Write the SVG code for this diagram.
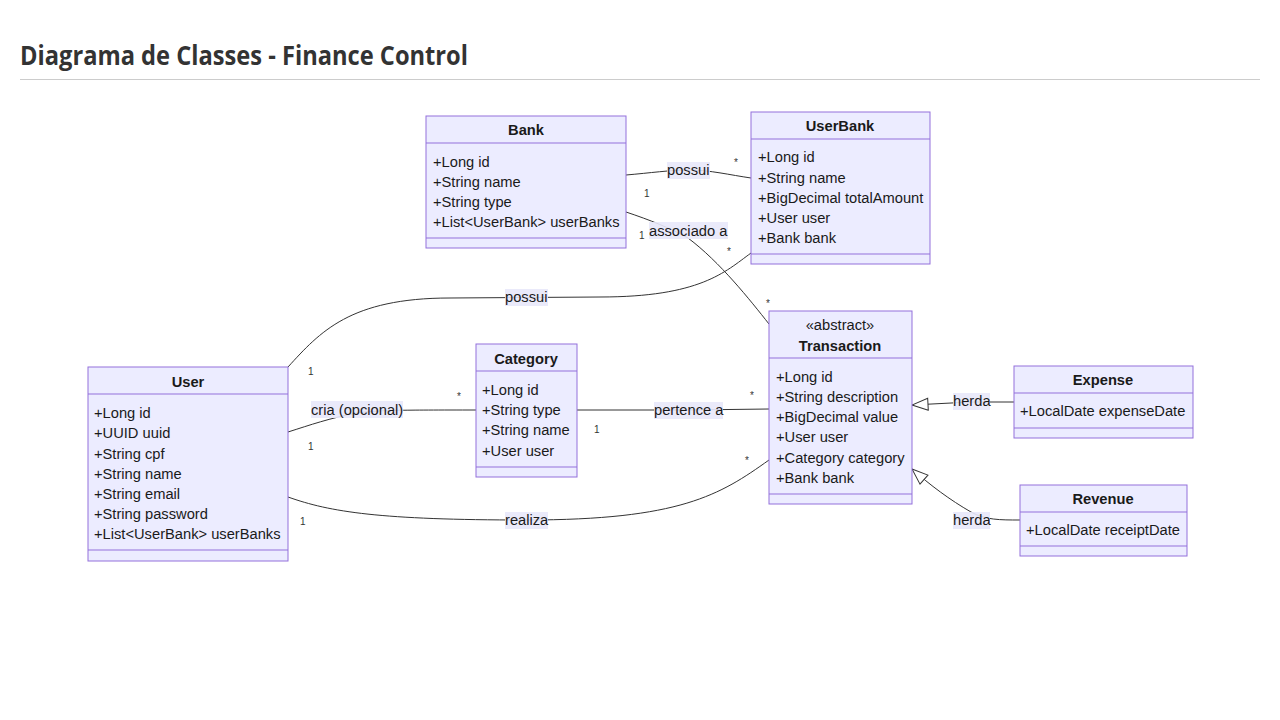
<svg xmlns="http://www.w3.org/2000/svg" width="1280" height="720" viewBox="0 0 1280 720" font-family="Liberation Sans, Arial, sans-serif">
<style>
.box{fill:#ECECFF;stroke:#9370DB;stroke-width:1}
.div{stroke:#9370DB;stroke-width:1}
text{font-family:'Liberation Sans',Arimo,Arial,sans-serif}
.t{font-size:14.7px;fill:#1a1a1a}
.h{font-size:14.7px;font-weight:bold;fill:#1a1a1a;text-anchor:middle}
.e{fill:none;stroke:#333;stroke-width:1}
.lb{fill:#E8E8FA;opacity:0.9}
.m{font-size:10px;fill:#333}
.title{font-family:'Open Sans','Noto Sans',sans-serif;font-size:26px;font-weight:700;fill:#333}
</style>
<defs>
<marker id="tri" markerWidth="18" markerHeight="14" refX="17" refY="7" orient="auto" markerUnits="userSpaceOnUse" viewBox="0 0 18 14">
<path d="M1,1 L17,7 L1,13 Z" fill="#fff" stroke="#333" stroke-width="1"/>
</marker>
</defs>
<rect width="1280" height="720" fill="#fff"/>
<text class="title" x="20" y="65" textLength="448" lengthAdjust="spacingAndGlyphs">Diagrama de Classes - Finance Control</text>
<line x1="20" y1="79.500" x2="1260" y2="79.500" stroke="#ccc" stroke-width="1"/>

<g id="connectors">
<path class="e" d="M626,175 C650,173 670,170 689,170 C710,170 730,175 751,178"/>
<path class="e" d="M626,212 C650,220 670,228 688,238 C720,262 750,300 769,324"/>
<path class="e" d="M288,367 C320,332 350,298 450,298 L600,297 C700,297 725,272 751,253"/>
<path class="e" d="M288,432 C310,425 330,418 357,413 C380,410 400,410 476,410"/>
<path class="e" d="M577,410 L688,410 L769,409"/>
<path class="e" d="M288,497 C330,512 380,520 526,520 C680,520 720,495 769,460"/>
<path class="e" d="M1014,402 L971,402 L912,405" marker-end="url(#tri)"/>
<path class="e" d="M1020,520 C1000,520 985,520 971,512 C950,500 930,485 912,469" marker-end="url(#tri)"/>
<rect class="lb" x="667" y="162" width="43" height="17"/>
<text class="t" x="667" y="175">possui</text>
<rect class="lb" x="649" y="222" width="79" height="17"/>
<text class="t" x="649" y="236">associado a</text>
<rect class="lb" x="505" y="289" width="43" height="17"/>
<text class="t" x="505" y="302">possui</text>
<rect class="lb" x="311" y="401" width="92" height="17"/>
<text class="t" x="311" y="415">cria (opcional)</text>
<rect class="lb" x="654" y="402" width="69" height="17"/>
<text class="t" x="654" y="415">pertence a</text>
<rect class="lb" x="505" y="512" width="43" height="17"/>
<text class="t" x="505" y="525">realiza</text>
<rect class="lb" x="953" y="393" width="37" height="17"/>
<text class="t" x="953" y="406">herda</text>
<rect class="lb" x="953" y="512" width="37" height="17"/>
<text class="t" x="953" y="525">herda</text>
<text class="m" x="644" y="197">1</text>
<text class="m" x="734" y="166">*</text>
<text class="m" x="639" y="239">1</text>
<text class="m" x="727" y="255">*</text>
<text class="m" x="766" y="307">*</text>
<text class="m" x="308" y="375">1</text>
<text class="m" x="308" y="450">1</text>
<text class="m" x="457" y="400">*</text>
<text class="m" x="594" y="433">1</text>
<text class="m" x="750" y="399">*</text>
<text class="m" x="300" y="525">1</text>
<text class="m" x="745" y="464">*</text>
</g>

<g id="Bank">
<rect class="box" x="426" y="116" width="200" height="132"/>
<line class="div" x1="426" y1="143" x2="626" y2="143"/>
<line class="div" x1="426" y1="238" x2="626" y2="238"/>
<text class="h" x="526" y="135">Bank</text>
<text class="t" x="433" y="167">+Long id</text>
<text class="t" x="433" y="187">+String name</text>
<text class="t" x="433" y="207">+String type</text>
<text class="t" x="433" y="227">+List&lt;UserBank&gt; userBanks</text>
</g>

<g id="UserBank">
<rect class="box" x="751" y="112" width="179" height="152"/>
<line class="div" x1="751" y1="139" x2="930" y2="139"/>
<line class="div" x1="751" y1="254" x2="930" y2="254"/>
<text class="h" x="840" y="131">UserBank</text>
<text class="t" x="758" y="162">+Long id</text>
<text class="t" x="758" y="183">+String name</text>
<text class="t" x="758" y="203">+BigDecimal totalAmount</text>
<text class="t" x="758" y="223">+User user</text>
<text class="t" x="758" y="243">+Bank bank</text>
</g>

<g id="User">
<rect class="box" x="88" y="367" width="200" height="194"/>
<line class="div" x1="88" y1="394" x2="288" y2="394"/>
<line class="div" x1="88" y1="550" x2="288" y2="550"/>
<text class="h" x="188" y="387">User</text>
<text class="t" x="94" y="418">+Long id</text>
<text class="t" x="94" y="438">+UUID uuid</text>
<text class="t" x="94" y="459">+String cpf</text>
<text class="t" x="94" y="479">+String name</text>
<text class="t" x="94" y="499">+String email</text>
<text class="t" x="94" y="519">+String password</text>
<text class="t" x="94" y="539">+List&lt;UserBank&gt; userBanks</text>
</g>

<g id="Category">
<rect class="box" x="476" y="344" width="101" height="133"/>
<line class="div" x1="476" y1="371" x2="577" y2="371"/>
<line class="div" x1="476" y1="467" x2="577" y2="467"/>
<text class="h" x="526" y="364">Category</text>
<text class="t" x="482" y="395">+Long id</text>
<text class="t" x="482" y="415">+String type</text>
<text class="t" x="482" y="435">+String name</text>
<text class="t" x="482" y="456">+User user</text>
</g>

<g id="Transaction">
<rect class="box" x="769" y="311" width="143" height="193"/>
<line class="div" x1="769" y1="358" x2="912" y2="358"/>
<line class="div" x1="769" y1="494" x2="912" y2="494"/>
<text class="t" x="840" y="330" text-anchor="middle">«abstract»</text>
<text class="h" x="840" y="351">Transaction</text>
<text class="t" x="776" y="382">+Long id</text>
<text class="t" x="776" y="402">+String description</text>
<text class="t" x="776" y="422">+BigDecimal value</text>
<text class="t" x="776" y="442">+User user</text>
<text class="t" x="776" y="463">+Category category</text>
<text class="t" x="776" y="483">+Bank bank</text>
</g>

<g id="Expense">
<rect class="box" x="1014" y="366" width="179" height="72"/>
<line class="div" x1="1014" y1="393" x2="1193" y2="393"/>
<line class="div" x1="1014" y1="428" x2="1193" y2="428"/>
<text class="h" x="1103" y="385">Expense</text>
<text class="t" x="1020" y="416">+LocalDate expenseDate</text>
</g>

<g id="Revenue">
<rect class="box" x="1020" y="485" width="167" height="71"/>
<line class="div" x1="1020" y1="512" x2="1187" y2="512"/>
<line class="div" x1="1020" y1="546" x2="1187" y2="546"/>
<text class="h" x="1103" y="504">Revenue</text>
<text class="t" x="1026" y="535">+LocalDate receiptDate</text>
</g>
</svg>
